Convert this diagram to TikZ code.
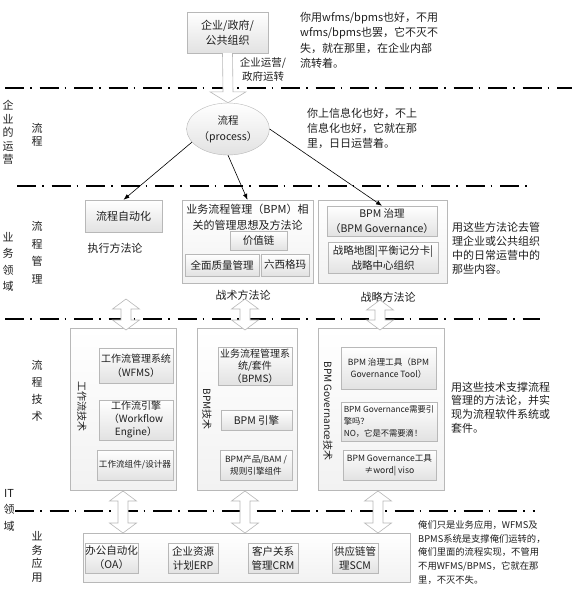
\documentclass[tikz,border=0pt]{standalone}
\usepackage{fontspec}
\setmainfont{Noto Sans CJK SC}
\usetikzlibrary{arrows.meta,positioning,calc,shapes.geometric}
\definecolor{edge}{HTML}{B8B8B8}
\definecolor{shade}{HTML}{E2E2E2}
\definecolor{ink}{HTML}{1E1E1E}

% hollow up-down block arrow between two named points
\newcommand{\dblarrow}[2]{%
  \draw[hollow] (#1) -- ++(13.5,10) -- ++(-8.5,0) -- ($(#2)+(5,-10)$) -- ++(8.5,0)
    -- (#2) -- ++(-13.5,-10) -- ++(8.5,0) -- ($(#1)+(-5,10)$) -- ++(-8.5,0) -- cycle;}

\begin{document}
\begin{tikzpicture}[x=1pt,y=-1pt,
  every node/.style={font=\fontsize{10.5}{14}\selectfont,align=center,inner sep=0pt,text=ink},
  box/.style={draw=edge,top color=white,bottom color=shade},
  outer/.style={draw=edge,top color=white,bottom color=shade!45},
  note/.style={align=left,anchor=west,font=\fontsize{11}{15.5}\selectfont},
  side/.style={font=\fontsize{11}{13.5}\selectfont},
  small/.style={font=\fontsize{8.6}{12}\selectfont},
  sep/.style={line width=2.6pt,dash pattern=on 19pt off 6pt on 1.5pt off 8pt},
  arr/.style={-{Latex[length=6pt,width=4.5pt]},line width=0.6pt},
  hollow/.style={draw=edge,fill=white,line width=0.6pt}
]
\useasboundingbox (0,0) rectangle (579,598);

% separators
\draw[sep] (5,88) -- (572,88);
\draw[sep] (17,186) -- (533,186);
\draw[sep] (5,319) -- (540,319);
\draw[sep] (15,511) -- (535,511);

% left labels
\node[side] (l1) at (8,132.5) {企\\业\\的\\运\\营};
\node[side] (l2) at (37,135) {流\\程};
\node[side,font=\fontsize{11}{16.5}\selectfont] (l3) at (8,262) {业\\务\\领\\域};
\node[side,font=\fontsize{11}{17.5}\selectfont] (l4) at (37,252.5) {流\\程\\管\\理};
\node[side,font=\fontsize{11}{17}\selectfont] (l5) at (37,391) {流\\程\\技\\术};
\node[side,font=\fontsize{11}{16.5}\selectfont] (l6) at (9,510) {IT\\领\\域};
\node[side,font=\fontsize{11}{13.5}\selectfont] (l7) at (37,557) {业\\务\\应\\用};

% top
\node[box,minimum width=81pt,minimum height=41pt,font=\fontsize{11}{15}\selectfont] (org) at (227.5,32.5) {企业/政府/\\公共组织};
\node[ellipse,box,minimum width=76pt,minimum height=52pt,font=\fontsize{10.5}{16}\selectfont] (proc) at (228,129) {流程\\（process）};
\draw[hollow] ($(org.south)+(-5,0)$) -- ($(proc.north)+(-5,-11)$) -- ++(-13,0) -- (proc.north)
  -- ++(18,-11) -- ++(-13,0) -- ($(org.south)+(5,0)$);
\node[font=\fontsize{10.5}{14}\selectfont] (run) at (263,69) {企业运营/\\政府运转};
\node[note] (t1) at (300,40.5) {你用wfms/bpms也好，不用\\wfms/bpms也罢，它不灭不\\失，就在那里，在企业内部\\流转着。};
\node[note,font=\fontsize{11}{15}\selectfont] (t2) at (307,128) {你上信息化也好，不上\\信息化也好，它就在那\\里，日日运营着。};

% business domain
\node[box,minimum width=77pt,minimum height=32pt,font=\fontsize{11}{14}\selectfont] (auto) at (123.5,216) {流程自动化};
\node[font=\fontsize{11}{14}\selectfont] (exec) at (115,248) {执行方法论};
\node[outer,minimum width=131pt,minimum height=83pt] (bpmm) at (247.5,241.5) {};
\node[font=\fontsize{11}{16}\selectfont] (bpmt) at (247.5,217) {业务流程管理（BPM）相\\关的管理思想及方法论};
\node[box,minimum width=57pt,minimum height=19pt] (chain) at (258.5,240.5) {价值链};
\node[box,minimum width=74pt,minimum height=22pt] (tqm) at (222,265) {全面质量管理};
\node[box,minimum width=48pt,minimum height=22pt] (six) at (285,265) {六西格玛};
\node[font=\fontsize{11}{14}\selectfont] (tact) at (243,295) {战术方法论};
\node[outer,minimum width=129pt,minimum height=83pt] (govo) at (382.5,241.5) {};
\node[box,minimum width=110pt,minimum height=30pt,font=\fontsize{10.5}{15}\selectfont] (gov) at (382,221) {BPM 治理\\（BPM Governance）};
\node[box,minimum width=110pt,minimum height=31pt,font=\fontsize{10.5}{15}\selectfont] (smap) at (383,257.5) {战略地图|平衡记分卡|\\战略中心组织};
\node[font=\fontsize{11}{14}\selectfont] (strat) at (388,297) {战略方法论};
\node[note,font=\fontsize{11}{14}\selectfont] (t3) at (452,248) {用这些方法论去管\\理企业或公共组织\\中的日常运营中的\\那些内容。};

\draw[arr] (proc.200) -- (auto.north);
\draw[arr] (proc.south) -- (bpmm.north);
\draw[arr] (proc.east) -- (gov.north);

% process technology
\node[outer,minimum width=106pt,minimum height=162pt] (wf) at (123,409) {};
\node[rotate=-90,font=\fontsize{10}{12}\selectfont] (wfl) at (82,406) {工作流技术};
\node[box,minimum width=74pt,minimum height=35pt,font=\fontsize{10}{14}\selectfont] (wfms) at (136,365.5) {工作流管理系统\\（WFMS）};
\node[box,minimum width=74pt,minimum height=40pt,font=\fontsize{10}{13}\selectfont] (wfe) at (136,420) {工作流引擎\\（Workflow\\Engine）};
\node[box,minimum width=76pt,minimum height=30pt,small] (wfc) at (135,465) {工作流组件/设计器};

\node[outer,minimum width=100pt,minimum height=162pt] (bt) at (247,409) {};
\node[rotate=-90,font=\fontsize{10}{12}\selectfont] (btl) at (207,409) {BPM技术};
\node[box,minimum width=74pt,minimum height=38pt,font=\fontsize{10}{12.5}\selectfont] (bpms) at (255,366) {业务流程管理系\\统/套件\\（BPMS）};
\node[box,minimum width=71pt,minimum height=20pt] (beng) at (256.5,420) {BPM 引擎};
\node[box,minimum width=72pt,minimum height=30pt,small] (bprod) at (256,465) {BPM产品/BAM /\\规则引擎组件};

\node[outer,minimum width=126pt,minimum height=162pt] (gt) at (381,409) {};
\node[rotate=-90,font=\fontsize{10}{12}\selectfont] (gtl) at (328,411) {BPM Governance技术};
\node[box,minimum width=95pt,minimum height=42pt,small] (gtool) at (388.5,368) {BPM 治理工具（BPM\\Governance Tool）};
\node[box,minimum width=96pt,minimum height=39pt,font=\fontsize{8.3}{12}\selectfont,align=left] (gq) at (389,421.5) {BPM Governance需要引\\擎吗？\\NO，它是不需要滴！};
\node[box,minimum width=93pt,minimum height=30pt,small] (gw) at (389.5,465) {BPM Governance工具\\≠word| viso};
\node[note,font=\fontsize{11}{13.8}\selectfont] (t4) at (451,407.5) {用这些技术支撑流程\\管理的方法论，并实\\现为流程软件系统或\\套件。};

% business applications
\node[outer,minimum width=327pt,minimum height=49pt] (apps) at (246.5,557.5) {};
\node[box,minimum width=53pt,minimum height=30pt] (oa) at (111.5,558) {办公自动化\\（OA）};
\node[box,minimum width=50pt,minimum height=30pt] (erp) at (193,558) {企业资源\\计划ERP};
\node[box,minimum width=50pt,minimum height=30pt] (crm) at (273,558) {客户关系\\管理CRM};
\node[box,minimum width=46pt,minimum height=30pt] (scm) at (355,558) {供应链管\\理SCM};
\node[note,font=\fontsize{9.3}{13.8}\selectfont] (t5) at (418,552.5) {俺们只是业务应用，WFMS及\\BPMS系统是支撑俺们运转的，\\俺们里面的流程实现，不管用\\不用WFMS/BPMS，它就在那\\里，不灭不失。};

% block arrows between layers
\coordinate (u1) at (126,299); \coordinate (d1) at (126,330);
\coordinate (u2) at (245,299); \coordinate (d2) at (245,330);
\coordinate (u3) at (380,300); \coordinate (d3) at (380,330);
\coordinate (u4) at (123,491); \coordinate (d4) at (123,533);
\coordinate (u5) at (245,491); \coordinate (d5) at (245,533);
\coordinate (u6) at (378,491); \coordinate (d6) at (378,533);
\dblarrow{u1}{d1}
\dblarrow{u2}{d2}
\dblarrow{u3}{d3}
\dblarrow{u4}{d4}
\dblarrow{u5}{d5}
\dblarrow{u6}{d6}
\end{tikzpicture}
\end{document}
